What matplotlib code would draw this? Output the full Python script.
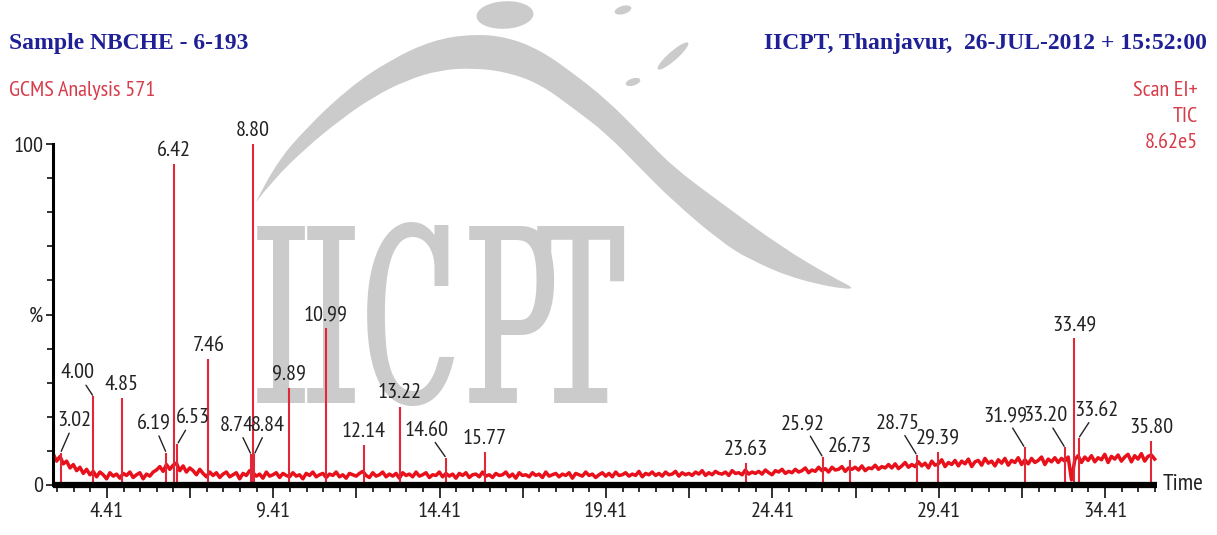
import os
import matplotlib.pyplot as plt
from matplotlib import font_manager as fm
from matplotlib.path import Path
from matplotlib.patches import PathPatch, Ellipse
import numpy as np

# TIC trace: one value (% of 8.62e5) every 0.1 min from 2.8 min
scan_start = 2.8
scan_step = 0.1
baseline = [
    9.0, 7.0, 8.4, 6.2, 7.0, 5.0, 6.0, 4.2, 5.2, 3.4, 4.6, 3.0,
    4.0, 2.4, 3.8, 3.0, 1.8, 3.6, 2.6, 3.2, 2.0, 3.4,
    2.8, 3.8, 2.2, 3.0, 3.6, 1.8, 3.2, 2.6, 3.8, 4.4,
    5.4, 4.0, 6.0, 4.6, 5.8, 6.4, 4.2, 5.6, 3.8, 5.0,
    4.2, 3.0, 4.6, 3.4, 2.4, 3.8, 2.8, 3.6, 2.2, 3.2,
    3.8, 2.4, 3.0, 3.6, 1.8, 3.4, 2.8, 4.2, 3.6, 2.6,
    3.2, 2.0, 3.8, 2.6, 3.0, 3.6, 2.2, 3.4, 2.8, 2.4,
    3.6, 2.6, 3.0, 1.8, 3.4, 2.8, 3.8, 2.4, 3.0, 3.4,
    2.2, 3.2, 2.8, 3.8, 2.4, 3.0, 2.0, 3.4, 3.0, 2.6,
    3.4, 4.0, 2.8, 2.2, 3.6, 2.6, 3.0, 3.8, 2.4, 3.2,
    2.6, 3.4, 2.0, 3.6, 2.8, 3.2, 2.4, 3.8, 2.6, 3.0,
    3.6, 2.2, 3.0, 2.8, 3.8, 2.4, 3.4, 2.6, 3.2, 2.0,
    3.4, 2.8, 3.6, 2.2, 3.0, 3.2, 2.4, 3.8, 2.6, 3.0,
    2.2, 3.4, 2.8, 3.0, 3.8, 2.4, 3.2, 2.0, 3.6, 2.8,
    3.0, 2.4, 3.6, 2.8, 3.2, 2.2, 3.8, 2.6, 3.0, 3.4,
    2.4, 3.2, 2.8, 3.6, 2.0, 3.4, 3.0, 2.6, 3.8, 2.8,
    3.2, 2.2, 3.0, 3.6, 2.6, 3.4, 2.4, 3.8, 2.8, 3.0,
    3.6, 2.6, 3.2, 2.8, 4.0, 2.4, 3.4, 3.0, 3.8, 2.8,
    3.4, 2.6, 3.8, 3.0, 3.2, 4.0, 2.6, 3.6, 3.0, 3.4,
    2.8, 3.8, 3.2, 4.2, 2.8, 3.6, 3.0, 4.0, 3.4, 3.2,
    3.8, 2.8, 4.2, 3.4, 3.6, 3.0, 4.4, 3.2, 3.8, 3.4,
    4.0, 3.2, 4.4, 3.6, 3.0, 4.2, 3.8, 4.6, 3.4, 4.0,
    3.6, 4.6, 3.8, 4.2, 5.0, 3.6, 4.4, 4.0, 5.2, 4.2,
    4.8, 3.8, 5.2, 4.4, 4.6, 5.4, 4.0, 5.0, 4.6, 5.2,
    4.4, 5.6, 4.2, 5.0, 4.8, 5.8, 4.6, 5.4, 5.0, 6.0,
    5.0, 6.2, 4.8, 5.6, 6.6, 5.2, 6.0, 5.4, 6.8, 5.6,
    6.4, 5.0, 7.0, 5.8, 6.2, 7.4, 5.4, 6.6, 6.0, 7.2,
    5.6, 7.0, 6.2, 7.6, 5.4, 6.8, 7.2, 5.8, 7.8, 6.4,
    7.0, 5.6, 7.4, 6.4, 7.8, 5.8, 7.2, 6.6, 8.0, 6.0,
    7.4, 6.2, 7.8, 6.6, 7.2, 8.2, 6.0, 7.6, 6.8, 8.0,
    6.6, 7.8, 7.0, 8.2, 1.5, 7.4, 8.6, 6.6, 8.2, 7.2,
    8.6, 6.8, 8.0, 7.4, 9.0, 6.6, 8.4, 7.6, 8.8, 7.0,
    8.2, 9.0, 6.8, 8.6, 7.6, 9.2, 7.0, 8.4, 8.8, 7.6,
]

# labelled peaks: retention time (min), height (%)
peak_rt = [3.02, 4.00, 4.85, 6.19, 6.42, 6.53, 7.46, 8.74, 8.80, 8.84, 9.89, 10.99, 12.14,
           13.22, 14.60, 15.77, 23.63, 25.92, 26.73, 28.75, 29.39, 31.99, 33.20, 33.49, 33.62, 35.80]
peak_height = [9.5, 26, 25.5, 9.5, 94, 12, 37, 9, 100, 9, 28.5, 46, 11.7,
               23, 8, 9.7, 6.5, 8.2, 7.3, 8.8, 9.7, 11, 11, 43, 13.8, 13]

x_tick_labels = ['4.41', '9.41', '14.41', '19.41', '24.41', '29.41', '34.41']

# label placement (points): labels with a leader line sit off to one side
leader_offset = {
    '3.02': (10, 16), '4.00': (-11, 10), '6.19': (-9, 14), '6.53': (11, 12),
    '8.74': (-10, 14), '8.84': (10, 14), '14.60': (-14, 13), '25.92': (-14, 17),
    '28.75': (-14, 16), '31.99': (-14, 16), '33.20': (-14, 16), '33.62': (13, 13),
}


def face(family, must=None, **kw):
    try:
        path = fm.findfont(fm.FontProperties(family=family, **kw), fallback_to_default=False)
    except ValueError:
        return None
    if must and must not in os.path.basename(path):
        return None
    return path


title_path = face('Liberation Serif', weight='bold') or face('DejaVu Serif', weight='bold')
title_size = 17

sans = ['PT Sans Narrow', 'Roboto Condensed', 'Liberation Sans', 'DejaVu Sans']
mark_font = ['Stint Ultra Condensed', 'Liberation Serif', 'DejaVu Serif']
navy = '#1f1f96'
pink = '#d63c4a'
ink = '#222222'
trace_red = '#e8101a'
gray = '#cbcbcb'
lab_size = 16

W, H = 1217, 535
fig = plt.figure(figsize=(W / 100, H / 100), dpi=100)


def fx(px):
    return px / W


def fy(py):
    return 1 - py / H


# watermark: swoosh outline (image pixels) smoothed with quadratic segments
edge = [(256, 202), (273, 167), (307, 127), (350, 87), (390, 60), (433, 40), (473, 34),
        (507, 37), (540, 50), (573, 73), (607, 100), (640, 133), (673, 167), (720, 202),
        (780, 246), (830, 276), (862, 292),
        (800, 281), (750, 260), (720, 241), (673, 201), (640, 168), (607, 134), (573, 108),
        (540, 84), (507, 72), (473, 68), (440, 70), (407, 80), (373, 97), (340, 120),
        (307, 147), (273, 180), (256, 202)]
verts = [edge[0]]
codes = [Path.MOVETO]
for i in range(1, len(edge) - 1):
    mid = ((edge[i][0] + edge[i + 1][0]) / 2, (edge[i][1] + edge[i + 1][1]) / 2)
    verts += [edge[i], mid if i < len(edge) - 2 else edge[i + 1]]
    codes += [Path.CURVE3, Path.CURVE3]
swoosh = Path([(fx(x), fy(y)) for x, y in verts], codes)
fig.add_artist(PathPatch(swoosh, facecolor=gray, edgecolor='none',
                         transform=fig.transFigure, zorder=0))
for cx, cy, w, h, ang in [(505, 15, 56, 28, -20), (623, 10, 14, 10, -30),
                          (673, 56, 12, 30, -25), (633, 82, 12, 9, -30)]:
    fig.add_artist(Ellipse((fx(cx), fy(cy)), w / W, h / H, angle=ang, facecolor=gray,
                           edgecolor='none', transform=fig.transFigure, zorder=0))
for ch, cx in zip('IICPT', [281, 331, 408, 512, 580]):
    fig.text(fx(cx), fy(403), ch, ha='center', va='baseline', fontsize=190,
             family=mark_font, color=gray, zorder=0)

ax = fig.add_axes([fx(53), fy(485), fx(1157) - fx(53), (485 - 144) / H])
ax.set_zorder(1)
ax.patch.set_visible(False)

t = scan_start + scan_step * np.arange(len(baseline))
ax.plot(t, baseline, color=trace_red, lw=2.5, zorder=2)
ax.vlines(peak_rt, 0, peak_height, color='#e02838', lw=1.5, zorder=2)

for rt, h in zip(peak_rt, peak_height):
    lbl = f'{rt:.2f}'
    if lbl in leader_offset:
        ax.annotate(lbl, xy=(rt, h), xytext=leader_offset[lbl], textcoords='offset points',
                    ha='center', va='bottom', fontsize=lab_size, family=sans, color=ink,
                    arrowprops=dict(arrowstyle='-', color=ink, lw=1.0, shrinkA=0, shrinkB=1))
    else:
        ax.annotate(lbl, xy=(rt, h), xytext=(0, 3), textcoords='offset points',
                    ha='center', va='bottom', fontsize=lab_size, family=sans, color=ink)

ax.set_xlim(2.79, 35.97)
ax.set_ylim(0, 100)

major_x = [4.41 + 2.5 * i for i in range(13)]
ax.set_xticks(major_x)
ax.set_xticklabels([x_tick_labels[i // 2] if i % 2 == 0 else '' for i in range(13)])
ax.set_xticks([2.91 + 0.5 * i for i in range(67)], minor=True)
ax.set_yticks([0, 50, 100])
ax.set_yticklabels(['0', '%', '100'])
ax.set_yticks(range(0, 101, 10), minor=True)

for s in ['top', 'right']:
    ax.spines[s].set_visible(False)
ax.spines['bottom'].set_linewidth(4.5)
ax.spines['left'].set_linewidth(2.2)
ax.spines['bottom'].set_capstyle('butt')

ax.tick_params(axis='x', which='major', length=9, width=1.3, pad=3, labelsize=lab_size, colors=ink)
ax.tick_params(axis='x', which='minor', length=5, width=1.3, colors=ink)
ax.tick_params(axis='y', which='major', length=5, width=1.3, pad=2, labelsize=lab_size, colors=ink)
ax.tick_params(axis='y', which='minor', length=4, width=1.3, colors=ink)
for lab in ax.get_xticklabels() + ax.get_yticklabels():
    lab.set_family(sans)

ax.annotate('Time', xy=(1, 0), xycoords='axes fraction', xytext=(4, 0), textcoords='offset points',
            ha='left', va='center', fontsize=17, family=sans, color=ink)

# header
tprop = fm.FontProperties(fname=title_path, size=title_size)
fig.text(fx(9), fy(44), 'Sample NBCHE - 6-193', ha='left', va='center',
         fontproperties=tprop, color=navy)
fig.text(fx(1207), fy(44), 'IICPT, Thanjavur,  26-JUL-2012 + 15:52:00', ha='right', va='center',
         fontproperties=tprop, color=navy)
fig.text(fx(9), fy(90), 'GCMS Analysis 571', ha='left', va='center', fontsize=16,
         family=sans, color=pink)
for txt, py in [('Scan EI+', 90), ('TIC', 117), ('8.62e5', 142)]:
    fig.text(fx(1198), fy(py), txt, ha='right', va='center', fontsize=16, family=sans, color=pink)

fig.savefig('out.png', dpi=100, facecolor='white')
